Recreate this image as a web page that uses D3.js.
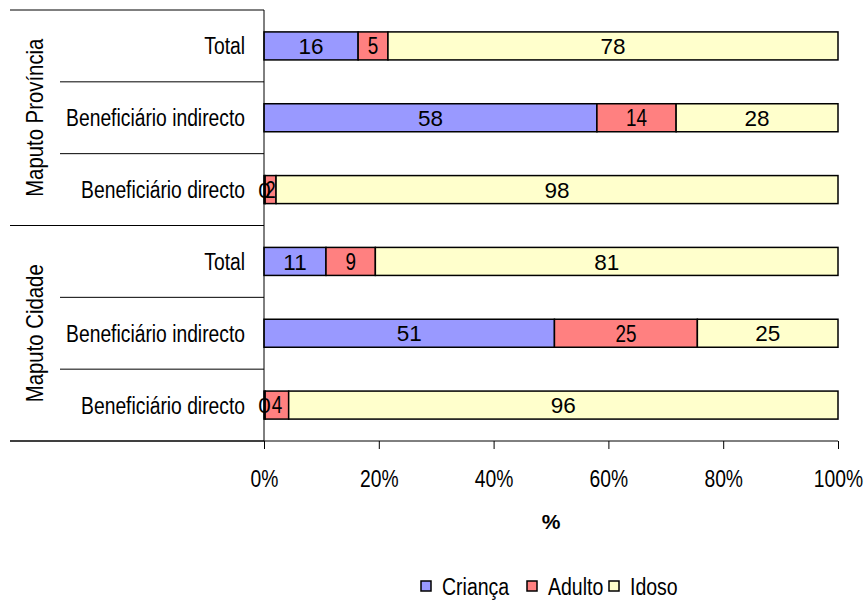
<!DOCTYPE html>
<html>
<head>
<meta charset="UTF-8">
<script src="https://cdn.jsdelivr.net/npm/d3@7"></script>
<style>
body{
  margin:0;
  background-color:#fff;
}
</style>
</head>
<body>
<script>
// 100% stacked bars, two regions x three rows

var groups = ["Maputo Província", "Maputo Cidade"]
var categories = ["Total", "Beneficiário indirecto", "Beneficiário directo"]
var series = ["Criança", "Adulto", "Idoso"]

var crianca = [16.4, 58.0, 0.2, 10.8, 50.6, 0.2]
var adulto  = [5.2, 13.8, 1.9, 8.6, 24.9, 4.1]
var idoso   = [78.4, 28.2, 97.9, 80.6, 24.5, 95.7]

var ticks = [0, 0.2, 0.4, 0.6, 0.8, 1]

var width = 866
var height = 602

var colors = ["#9999ff", "#ff8080", "#ffffcc"]
var font = "'Liberation Sans', Arial, sans-serif"

// squeeze text horizontally, the original uses a condensed face
function narrow(sel, k){
  sel.each(function(){
    var w = this.getComputedTextLength()
    d3.select(this).attr("textLength", w * (k || 0.82)).attr("lengthAdjust", "spacingAndGlyphs")
  })
}

var rows = []
groups.forEach(function(g, gi){
  categories.forEach(function(c, ci){
    var i = gi*3 + ci
    rows.push({id: g + "|" + c, group: g, cat: c,
      "Criança": crianca[i], "Adulto": adulto[i], "Idoso": idoso[i]})
  })
})

var mLeft = 264, mRight = 838, mTop = 10, mBottom = 441

var x = d3.scaleLinear().domain([0, 1]).range([mLeft, mRight])
var y = d3.scaleBand().domain(rows.map(d => d.id)).range([mTop, mBottom])
  .paddingInner(0.61).paddingOuter(0.305)
var color = d3.scaleOrdinal(series, colors)

var stacked = d3.stack().keys(series).offset(d3.stackOffsetExpand)(rows)

var svg = d3.select("body").append("svg")
  .attr("width", width)
  .attr("height", height)

// bars
var layer = svg.selectAll("g.layer")
  .data(stacked)
  .enter().append("g")
  .attr("class", "layer")
  .attr("fill", d => color(d.key))

layer.selectAll("rect")
  .data(d => d)
  .enter().append("rect")
  .attr("x", d => x(d[0]))
  .attr("y", d => y(d.data.id))
  .attr("width", d => x(d[1]) - x(d[0]))
  .attr("height", y.bandwidth())
  .attr("stroke", "#000")
  .attr("stroke-width", 1.5)

// value labels
stacked.forEach(function(s){
  var t = svg.append("g").selectAll("text")
    .data(s)
    .enter().append("text")
    .attr("x", d => (x(d[0]) + x(d[1]))/2)
    .attr("y", d => y(d.data.id) + y.bandwidth()/2)
    .attr("dy", "0.36em")
    .attr("text-anchor", "middle")
    .attr("font-family", font)
    .attr("font-size", s.key == "Adulto" ? 23 : 22.5)
    .attr("fill", "#000")
    .text(d => d3.format(".0f")(d.data[s.key]))
  if (s.key == "Adulto") t.call(narrow)
})

// category axis lines
var step = y.step()
svg.append("line")
  .attr("x1", mLeft).attr("x2", mLeft)
  .attr("y1", mTop).attr("y2", mBottom)
  .attr("stroke", "#000")

var seps = d3.range(0, rows.length + 1)
svg.append("g").selectAll("line")
  .data(seps)
  .enter().append("line")
  .attr("x1", d => d % 3 == 0 ? 10 : 60)
  .attr("x2", mLeft)
  .attr("y1", d => mTop + d*step)
  .attr("y2", d => mTop + d*step)
  .attr("stroke", "#000")

// row labels
svg.append("g").selectAll("text")
  .data(rows)
  .enter().append("text")
  .attr("x", 245)
  .attr("y", d => y(d.id) + y.bandwidth()/2)
  .attr("dy", "0.36em")
  .attr("text-anchor", "end")
  .attr("font-family", font)
  .attr("font-size", 23.5)
  .text(d => d.cat)
  .call(narrow)

// group labels
svg.append("g").selectAll("text")
  .data(groups)
  .enter().append("text")
  .attr("transform", (d, i) => "translate(34," + (mTop + (i*3 + 1.5)*step) + ") rotate(-90)")
  .attr("dy", "0.36em")
  .attr("text-anchor", "middle")
  .attr("font-family", font)
  .attr("font-size", 24.5)
  .text(d => d)
  .call(narrow, 0.83)

// value axis
var xAxis = svg.append("g")
  .attr("transform", "translate(0," + mBottom + ")")
  .call(d3.axisBottom(x).tickValues(ticks).tickFormat(d3.format(".0%")).tickSize(8).tickPadding(21))
xAxis.select(".domain").remove()
xAxis.append("line")
  .attr("x1", 10).attr("x2", mRight)
  .attr("stroke", "#000")
xAxis.selectAll("text")
  .attr("font-family", font)
  .attr("font-size", 23.5)
  .attr("fill", "#000")
  .call(narrow)

svg.append("text")
  .attr("x", (mLeft + mRight)/2)
  .attr("y", 529)
  .attr("text-anchor", "middle")
  .attr("font-family", font)
  .attr("font-weight", "bold")
  .attr("font-size", 21)
  .text("%")

// legend
var legendX = [421, 527, 609]
var legend = svg.append("g").selectAll("g")
  .data(series)
  .enter().append("g")
  .attr("transform", (d, i) => "translate(" + legendX[i] + ",581)")
legend.append("rect")
  .attr("width", 10).attr("height", 10)
  .attr("fill", d => color(d))
  .attr("stroke", "#000")
  .attr("stroke-width", 1.5)
legend.append("text")
  .attr("x", 21)
  .attr("y", 6)
  .attr("dy", "0.36em")
  .attr("font-family", font)
  .attr("font-size", 23.5)
  .text(d => d)
  .call(narrow, 0.83)
</script>
</body>
</html>
